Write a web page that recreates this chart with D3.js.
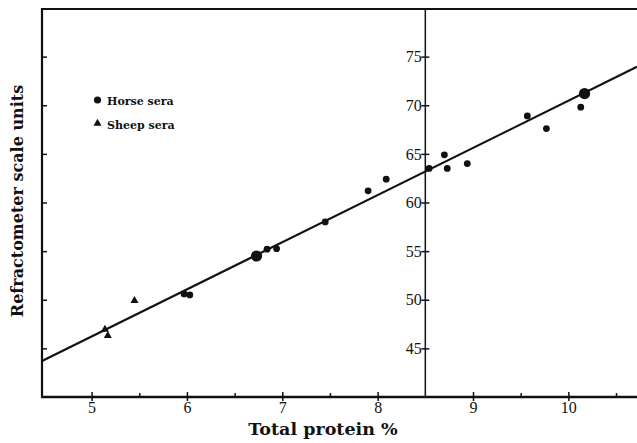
<!DOCTYPE html>
<html>
<head>
<meta charset="utf-8">
<script src="https://cdn.jsdelivr.net/npm/d3@7/dist/d3.min.js"></script>
<style>
html,body{margin:0;padding:0;background:#fff;}
svg{display:block;}
</style>
</head>
<body>
<svg id="chart" width="637" height="443"></svg>
<script>
// ---- data ----
const xTicks = [5, 6, 7, 8, 9, 10];
const xMinorTicks = [5.5, 6.5, 7.5, 9.5, 10.5];
const yTicks = [45, 50, 55, 60, 65, 70, 75];
const horseX = [6.73, 6.84, 6.94, 7.45, 7.90, 8.09, 8.54, 8.70, 8.73, 8.94, 9.57, 9.77, 10.13, 10.17, 5.97, 6.03];
const horseY = [54.5, 55.2, 55.25, 58.0, 61.2, 62.4, 63.5, 64.9, 63.5, 64.0, 68.9, 67.6, 69.8, 71.2, 50.6, 50.5];
const horseLarge = [1, 0, 0, 0, 0, 0, 0, 0, 0, 0, 0, 0, 0, 1, 0, 0];
const sheepX = [5.45, 5.14, 5.17];
const sheepY = [49.9, 46.95, 46.3];
const fitX = [4.48, 10.72];
const fitY = [43.7, 73.95];
const legendLabels = ["Horse sera", "Sheep sera"];
const xTitle = "Total protein %";
const yTitle = "Refractometer scale units";

// ---- scales ----
const svg = d3.select("#chart");
const x = d3.scaleLinear().domain([4.48, 10.72]).range([42, 637]);
const y = d3.scaleLinear().domain([40, 80]).range([397, 8]);
const ink = "#111";

// frame top
svg.append("line").attr("x1", x(4.48)).attr("x2", 637).attr("y1", y(80) + 1).attr("y2", y(80) + 1)
  .attr("stroke", ink).attr("stroke-width", 2);

// left axis (inner ticks, no labels)
const leftAxis = svg.append("g").attr("transform", `translate(${x(4.48)},0)`)
  .call(d3.axisRight(y).tickValues(yTicks).tickSize(5).tickFormat(""));
leftAxis.select(".domain").remove();
leftAxis.selectAll("line").attr("stroke", ink).attr("stroke-width", 1.5);
svg.append("line").attr("x1", x(4.48)).attr("x2", x(4.48)).attr("y1", y(80)).attr("y2", y(40) + 1)
  .attr("stroke", ink).attr("stroke-width", 2.2);

// bottom axis
const bottom = svg.append("g").attr("transform", `translate(0,${y(40)})`)
  .call(d3.axisBottom(x).tickValues(xTicks).tickSize(4).tickPadding(1).tickFormat(d3.format("d")));
bottom.select(".domain").remove();
bottom.selectAll(".tick line").attr("y1", -5).attr("y2", 4).attr("stroke", ink).attr("stroke-width", 1.5);
bottom.selectAll(".tick text").attr("font-family", "Liberation Serif").attr("font-size", 16).attr("fill", ink);
const minor = svg.append("g").attr("transform", `translate(0,${y(40)})`)
  .call(d3.axisTop(x).tickValues(xMinorTicks).tickSize(4).tickFormat(""));
minor.select(".domain").remove();
minor.selectAll("line").attr("stroke", ink).attr("stroke-width", 1.5);
svg.append("line").attr("x1", x(4.48) - 1).attr("x2", 637).attr("y1", y(40)).attr("y2", y(40))
  .attr("stroke", ink).attr("stroke-width", 2.4);

// central y axis at 8.5
const cx = x(8.5);
const mid = svg.append("g").attr("transform", `translate(${cx},0)`)
  .call(d3.axisLeft(y).tickValues(yTicks).tickSize(4).tickPadding(0).tickFormat(d3.format("d")));
mid.select(".domain").remove();
mid.selectAll(".tick line").attr("x1", 4).attr("x2", -4).attr("stroke", ink).attr("stroke-width", 1.5);
mid.selectAll(".tick text").attr("font-family", "Liberation Serif").attr("font-size", 16).attr("fill", ink).attr("x", -3.5);
svg.append("line").attr("x1", cx).attr("x2", cx).attr("y1", y(80) + 1).attr("y2", y(40))
  .attr("stroke", ink).attr("stroke-width", 1.5);

// fit line
svg.append("path").datum(fitX.map((d, i) => [d, fitY[i]]))
  .attr("d", d3.line().x(d => x(d[0])).y(d => y(d[1])))
  .attr("fill", "none").attr("stroke", ink).attr("stroke-width", 2.2);

// horse points
svg.append("g").selectAll("circle").data(horseX.map((d, i) => ({x: d, y: horseY[i], l: horseLarge[i]})))
  .join("circle").attr("cx", d => x(d.x)).attr("cy", d => y(d.y)).attr("r", d => d.l ? 5.6 : 3.4)
  .attr("fill", ink);

// sheep points
const tri = d3.symbol().type(d3.symbolTriangle).size(28);
svg.append("g").selectAll("path").data(sheepX.map((d, i) => ({x: d, y: sheepY[i]})))
  .join("path").attr("d", tri).attr("transform", d => `translate(${x(d.x)},${y(d.y)})`).attr("fill", ink);

// legend
const lg = svg.append("g");
lg.append("circle").attr("cx", 97.5).attr("cy", 100).attr("r", 3.6).attr("fill", ink);
lg.append("path").attr("d", tri).attr("transform", "translate(97.5,123.5)").attr("fill", ink);
lg.selectAll("text").data(legendLabels).join("text")
  .attr("x", 107).attr("y", (d, i) => 104.5 + i * 24)
  .attr("font-family", "DejaVu Serif").attr("font-weight", "bold").attr("font-size", 11)
  .attr("fill", ink).text(d => d);

// axis titles
svg.append("text").attr("x", 323).attr("y", 435).attr("text-anchor", "middle")
  .attr("font-family", "DejaVu Serif").attr("font-weight", "bold").attr("font-size", 17.5)
  .attr("fill", ink).text(xTitle);
svg.append("text").attr("transform", "translate(23,201) rotate(-90)").attr("text-anchor", "middle")
  .attr("font-family", "DejaVu Serif").attr("font-weight", "bold").attr("font-size", 16)
  .attr("fill", ink).text(yTitle);
</script>
</body>
</html>
